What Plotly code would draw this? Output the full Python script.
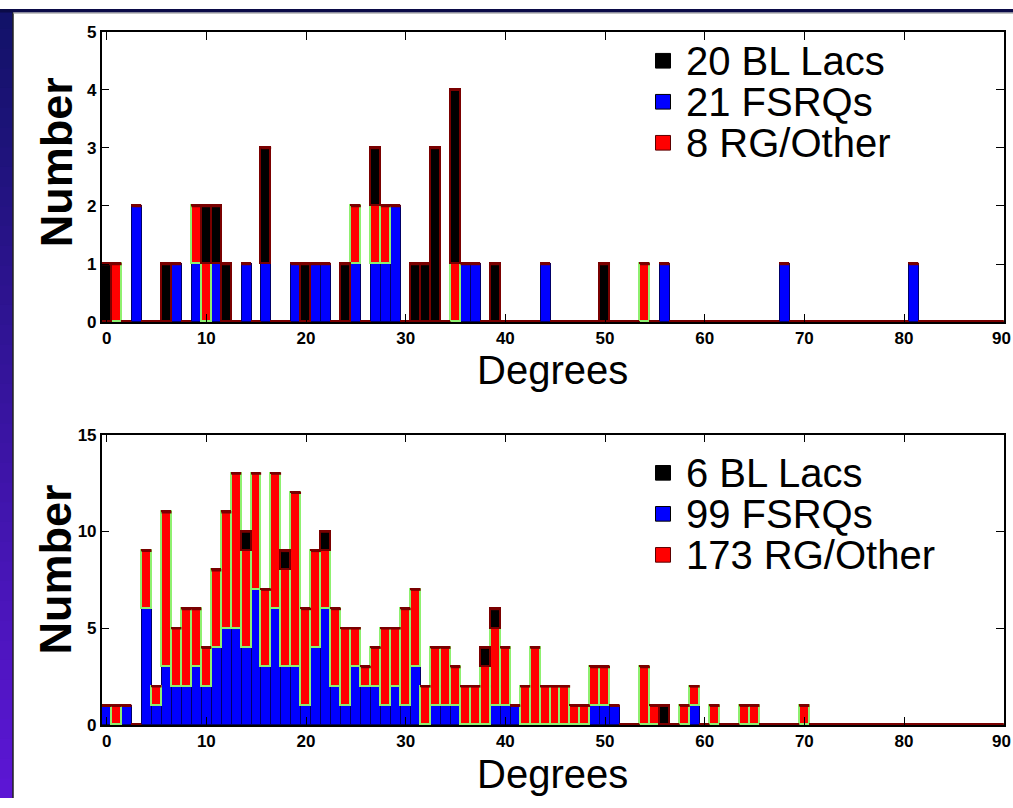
import plotly.graph_objects as go

# ---------------- data (counts per 1-degree bin, bins centred on 0..90) ----------------
degrees = list(range(91))

# upper panel
black_top = [1,0,0,0,0,0,1,0,0,0,
             1,1,1,0,0,0,2,0,0,0,
             1,0,0,0,1,0,0,1,0,0,
             0,1,1,3,0,3,0,0,0,1,
             0,0,0,0,0,0,0,0,0,0,
             1,0,0,0,0,0,0,0,0,0,
             0,0,0,0,0,0,0,0,0,0,
             0,0,0,0,0,0,0,0,0,0,
             0,0,0,0,0,0,0,0,0,0,
             0]
blue_top = [0,0,0,2,0,0,0,1,0,1,
            0,1,0,0,1,0,1,0,0,1,
            0,1,1,0,0,1,0,1,1,2,
            0,0,0,0,0,0,1,1,0,0,
            0,0,0,0,1,0,0,0,0,0,
            0,0,0,0,0,0,1,0,0,0,
            0,0,0,0,0,0,0,0,1,0,
            0,0,0,0,0,0,0,0,0,0,
            0,1,0,0,0,0,0,0,0,0,
            0]
red_top = [0,1,0,0,0,0,0,0,0,1,
           1,0,0,0,0,0,0,0,0,0,
           0,0,0,0,0,1,0,1,1,0,
           0,0,0,0,0,1,0,0,0,0,
           0,0,0,0,0,0,0,0,0,0,
           0,0,0,0,1,0,0,0,0,0,
           0,0,0,0,0,0,0,0,0,0,
           0,0,0,0,0,0,0,0,0,0,
           0,0,0,0,0,0,0,0,0,0,
           0]

# lower panel
black_bot = [0,0,0,0,0,0,0,0,0,0,
             0,0,0,0,1,0,0,0,1,0,
             0,0,1,0,0,0,0,0,0,0,
             0,0,0,0,0,0,0,0,1,1,
             0,0,0,0,0,0,0,0,0,0,
             0,0,0,0,0,0,1,0,0,0,
             0,0,0,0,0,0,0,0,0,0,
             0,0,0,0,0,0,0,0,0,0,
             0,0,0,0,0,0,0,0,0,0,
             0]
blue_bot = [1,0,1,0,6,1,3,2,2,3,
            2,4,5,5,4,7,3,6,3,3,
            1,4,6,2,1,3,2,2,1,2,
            1,3,0,1,1,1,0,0,0,1,
            1,1,0,0,0,0,0,0,0,1,
            1,1,0,0,0,0,0,0,0,1,
            0,0,0,0,0,0,0,0,0,0,
            0,0,0,0,0,0,0,0,0,0,
            0,0,0,0,0,0,0,0,0,0,
            0]
red_bot = [0,1,0,0,3,1,8,3,4,3,
           2,4,6,8,5,6,4,7,5,9,
           5,5,3,4,4,2,1,2,4,3,
           5,4,2,3,3,2,2,2,3,4,
           3,0,2,4,2,2,2,1,1,2,
           2,0,0,0,3,1,0,0,1,1,
           0,1,0,0,1,1,0,0,0,0,
           1,0,0,0,0,0,0,0,0,0,
           0,0,0,0,0,0,0,0,0,0,
           0]

series_labels = ["BL Lacs", "FSRQs", "RG/Other"]   # legend order: black, blue, red
x_ticks = [0, 10, 20, 30, 40, 50, 60, 70, 80, 90]
y_ticks_top = [0, 1, 2, 3, 4, 5]
y_ticks_bot = [0, 5, 10, 15]

# ---------------- figure ----------------
W, H = 1013, 808
FONT = "Liberation Sans, Arial, sans-serif"
BLUE, RED, BLACK = "#0000FF", "#FF0000", "#000000"
MAROON = "#7a0000"


def fx(p):
    return p / W


def fy(p):
    return 1 - p / H


fig = go.Figure()

panels = [
    dict(xa="x", ya="y", black=black_top, blue=blue_top, red=red_top,
         legend_rows=[53, 95, 137], xlab_y=337),
    dict(xa="x2", ya="y2", black=black_bot, blue=blue_bot, red=red_bot,
         legend_rows=[475, 517, 559], xlab_y=750),
]

shapes = []
annotations = []
legend_font = dict(family=FONT, size=40, color="black")
tickfont = dict(family=FONT, size=17, color="black", weight="bold")

for p in panels:
    fig.add_trace(go.Bar(
        x=degrees, y=p["blue"], name=f"{sum(p['blue'])} {series_labels[1]}",
        marker=dict(color=BLUE, line=dict(color="#00006a", width=1)),
        xaxis=p["xa"], yaxis=p["ya"], showlegend=False, hoverinfo="x+y+name"))
    fig.add_trace(go.Bar(
        x=degrees, y=p["red"], name=f"{sum(p['red'])} {series_labels[2]}",
        marker=dict(color=RED, line=dict(color="#8ef070", width=1.5)),
        xaxis=p["xa"], yaxis=p["ya"], showlegend=False, hoverinfo="x+y+name"))
    fig.add_trace(go.Bar(
        x=degrees, y=p["black"], name=f"{sum(p['black'])} {series_labels[0]}",
        marker=dict(color=BLACK, line=dict(color=MAROON, width=1.5)),
        xaxis=p["xa"], yaxis=p["ya"], showlegend=False, hoverinfo="x+y+name"))
    # maroon edge on top of each stack (edge of the top series) incl. empty bins
    totals = [b + r + k for b, r, k in zip(p["blue"], p["red"], p["black"])]
    xs, ys = [], []
    for d, t in zip(degrees, totals):
        xs += [d - 0.5, d + 0.5, None]
        ys += [t, t, None]
    fig.add_trace(go.Scatter(
        x=xs, y=ys, mode="lines", line=dict(color=MAROON, width=2.5),
        showlegend=False, hoverinfo="skip", xaxis=p["xa"], yaxis=p["ya"]))

    # legend (squares + text)
    entries = [(BLACK, "#000000", f"{sum(p['black'])} {series_labels[0]}"),
               (BLUE, "#000000", f"{sum(p['blue'])} {series_labels[1]}"),
               (RED, "#5a0000", f"{sum(p['red'])} {series_labels[2]}")]
    for (col, edge, label), yc in zip(entries, p["legend_rows"]):
        shapes.append(dict(type="rect", xref="paper", yref="paper",
                           x0=fx(655.5), x1=fx(670.5), y0=fy(yc + 7.5), y1=fy(yc - 7.5),
                           fillcolor=col, line=dict(color=edge, width=1)))
        annotations.append(dict(text=label, x=fx(684), y=fy(yc), xref="paper", yref="paper",
                                showarrow=False, font=legend_font, xanchor="left", yanchor="middle"))
    # last x tick label sits on the figure edge (partly cut in the original)
    annotations.append(dict(text=str(x_ticks[-1]), x=1.0, y=fy(p["xlab_y"]), xref="paper", yref="paper",
                            showarrow=False, font=tickfont, xanchor="right", yanchor="middle"))

xdom = [fx(101.7), fx(1003.7)]
common_x = dict(domain=xdom, range=[-0.5, 90], tickvals=x_ticks, ticks="inside", ticklen=8,
                tickcolor="black", tickwidth=1, showline=True, linecolor="black", linewidth=1.5,
                mirror="ticks", showgrid=False, zeroline=False, tickfont=tickfont, fixedrange=True)
common_y = dict(ticks="inside", ticklen=8, tickcolor="black", tickwidth=1, showline=True,
                linecolor="black", linewidth=1.5, mirror="ticks", showgrid=False, zeroline=False,
                tickfont=tickfont, fixedrange=True)

fig.update_layout(
    width=W, height=H,
    margin=dict(l=0, r=0, t=0, b=0),
    paper_bgcolor="white", plot_bgcolor="white",
    barmode="stack", bargap=0,
    showlegend=False,
    xaxis=dict(anchor="y", **common_x),
    yaxis=dict(anchor="x", domain=[fy(320.7), fy(23.3)], range=[0, 5], tickvals=y_ticks_top, **common_y),
    xaxis2=dict(anchor="y2", **common_x),
    yaxis2=dict(anchor="x2", domain=[fy(733.3), fy(436)], range=[0, 15], tickvals=y_ticks_bot, **common_y),
)

# axis titles
title_num = dict(family=FONT, size=45, color="black", weight="bold")
title_deg = dict(family=FONT, size=40, color="black")
for yc in (157, 574):
    annotations.append(dict(text="Number", x=fx(56), y=fy(yc), xref="paper", yref="paper", textangle=-90,
                            showarrow=False, font=title_num, xanchor="center", yanchor="middle"))
for yc in (370, 783):
    annotations.append(dict(text="Degrees", x=fx(552.7), y=fy(yc), xref="paper", yref="paper",
                            showarrow=False, font=title_deg, xanchor="center", yanchor="middle"))

# slide background: dark top band and blue-to-purple left strip
bg = []
n = 40
c0, c1 = (18, 18, 105), (92, 22, 212)
for i in range(n):
    t = i / (n - 1)
    col = "rgb({},{},{})".format(*[round(a + (b - a) * t) for a, b in zip(c0, c1)])
    bg.append(dict(type="rect", xref="paper", yref="paper", x0=0, x1=fx(13),
                   y0=max(0, 1 - (i + 1.3) / n), y1=1 - i / n, fillcolor=col, line=dict(width=0),
                   layer="below"))
bg.append(dict(type="rect", xref="paper", yref="paper", x0=0, x1=1, y0=fy(3.5), y1=1,
               fillcolor="#0b0b48", line=dict(width=0), layer="below"))
bg.append(dict(type="line", xref="paper", yref="paper", x0=fx(13), x1=fx(13), y0=0, y1=fy(3.5),
               line=dict(color="#202020", width=1.5)))
bg.append(dict(type="line", xref="paper", yref="paper", x0=fx(13), x1=1, y0=fy(4.2), y1=fy(4.2),
               line=dict(color="#9a9a9a", width=1)))

fig.update_layout(shapes=bg + shapes, annotations=annotations)

fig.write_html("out.html")
